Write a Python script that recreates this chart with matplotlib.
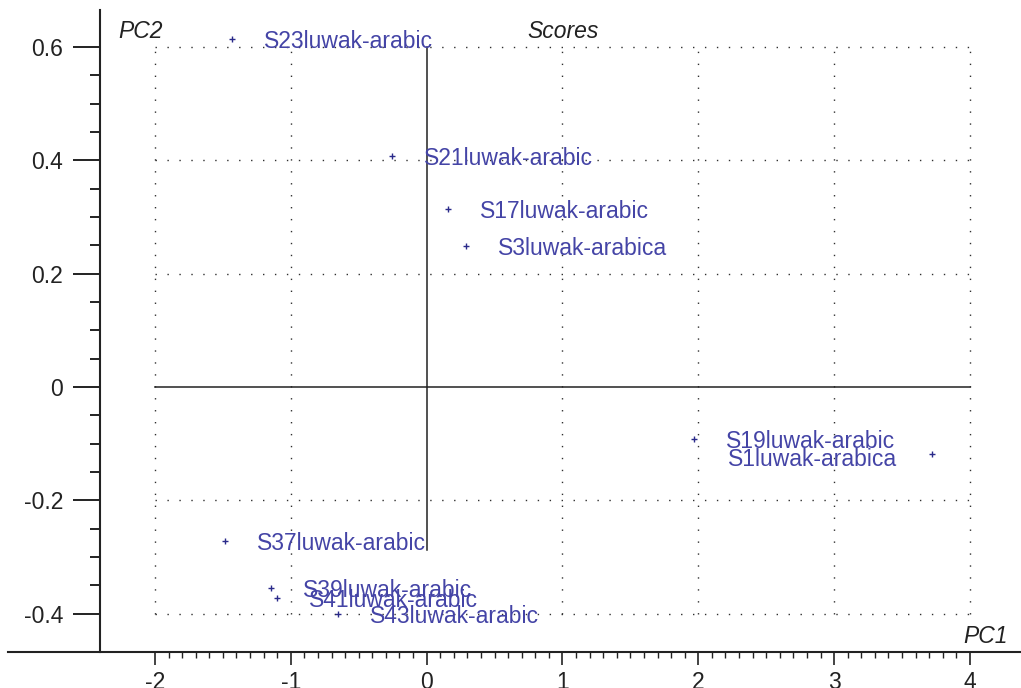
import numpy as np
import matplotlib
matplotlib.use('Agg')
import matplotlib.pyplot as plt
from matplotlib.ticker import FixedLocator, FixedFormatter

plt.rcParams['font.family'] = ['Liberation Sans', 'DejaVu Sans']
plt.rcParams['axes.unicode_minus'] = False

# PCA scores (PC1, PC2)
names = ['S23luwak-arabic', 'S21luwak-arabic', 'S17luwak-arabic', 'S3luwak-arabica',
         'S19luwak-arabic', 'S1luwak-arabica', 'S37luwak-arabic', 'S39luwak-arabic',
         'S41luwak-arabic', 'S43luwak-arabic']
pc1 = [-1.431, -0.257, 0.159, 0.290, 1.970, 3.718, -1.485, -1.146, -1.104, -0.651]
pc2 = [0.615, 0.408, 0.315, 0.249, -0.092, -0.118, -0.271, -0.355, -0.373, -0.401]
label_side = ['r', 'r', 'r', 'r', 'r', 'l', 'r', 'r', 'r', 'r']

x_ticks = [-2, -1, 0, 1, 2, 3, 4]
y_ticks = [-0.4, -0.2, 0, 0.2, 0.4, 0.6]
y_tick_labels = ['-0.4', '-0.2', '0', '0.2', '0.4', '0.6']

blue = '#4444a6'
dotcol = '#303030'
dots = (0, (1, 7.6))
fs = 16.5

fig = plt.figure(figsize=(10.21, 6.88), dpi=100)
ax = fig.add_axes([8 / 1021, 36 / 688, 1013 / 1021, 642 / 688])
ax.set_xlim(-3.082, 4.376)
ax.set_ylim(-0.4676, 0.6653)

# dotted grid inside the box only
for xv in x_ticks:
    if xv != 0:
        ax.plot([xv, xv], [-0.4, 0.6], color=dotcol, lw=1.0, ls=dots, zorder=1)
for yv in y_ticks:
    if yv != 0:
        ax.plot([-2, 4], [yv, yv], color=dotcol, lw=1.0, ls=dots, zorder=1)
# zero lines
ax.plot([-2, 4], [0, 0], color='#222222', lw=1.1, zorder=2)
ax.plot([0, 0], [0.6, -0.288], color='#222222', lw=1.1, zorder=2)

ax.scatter(pc1, pc2, marker='+', s=14, linewidths=1.0, color='#2a2a8a', zorder=3)
for n, x, y, side in zip(names, pc1, pc2, label_side):
    if side == 'r':
        ax.annotate(n, (x, y), xytext=(23, 0), textcoords='offset points',
                    ha='left', va='center_baseline', color=blue, fontsize=fs)
    else:
        ax.annotate(n, (x, y), xytext=(-25, -2), textcoords='offset points',
                    ha='right', va='center_baseline', color=blue, fontsize=fs)

ax.text(-2.272, 0.6326, 'PC2', style='italic', fontsize=fs, color='#222222',
        va='center_baseline', ha='left')
ax.text(0.739, 0.6326, 'Scores', style='italic', fontsize=fs, color='#222222',
        va='center_baseline', ha='left')
ax.text(3.949, -0.435, 'PC1', style='italic', fontsize=fs, color='#222222',
        va='center_baseline', ha='left')

# axes look
for s in ['top', 'right']:
    ax.spines[s].set_visible(False)
ax.spines['left'].set_position(('data', -2.405))
ax.spines['left'].set_linewidth(1.5)
ax.spines['bottom'].set_linewidth(1.5)
ax.spines['left'].set_color('#222222')
ax.spines['bottom'].set_color('#222222')

ax.xaxis.set_major_locator(FixedLocator(x_ticks))
ax.xaxis.set_minor_locator(FixedLocator(np.arange(-2, 4.001, 0.1)))
ax.yaxis.set_major_locator(FixedLocator(y_ticks))
ax.yaxis.set_major_formatter(FixedFormatter(y_tick_labels))
ax.yaxis.set_minor_locator(FixedLocator(np.arange(-0.4, 0.6001, 0.05)))

ax.tick_params(axis='x', which='major', length=9.4, width=1.2, direction='out',
               labelsize=fs, pad=4, color='#222222', labelcolor='#222222')
ax.tick_params(axis='x', which='minor', length=4.3, width=1.0, direction='out', color='#222222')
ax.tick_params(axis='y', which='major', length=19.4, width=1.4, direction='out',
               labelsize=fs, pad=7, color='#222222', labelcolor='#222222')
ax.tick_params(axis='y', which='minor', length=7.2, width=1.4, direction='out', color='#222222')

fig.savefig('out.png', dpi=100)
